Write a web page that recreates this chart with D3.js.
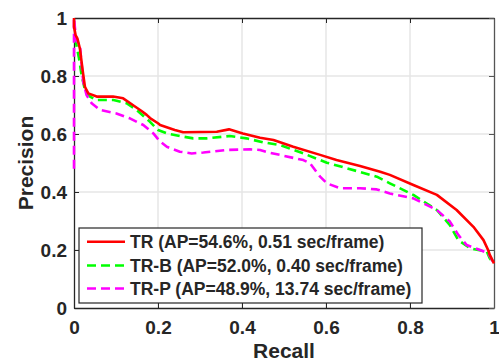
<!DOCTYPE html>
<html><head><meta charset="utf-8">
<script src="https://cdn.jsdelivr.net/npm/d3@7"></script>
<style>body{margin:0;background:#fff}svg{display:block}text{font-family:"Liberation Sans",Arial,Helvetica,sans-serif;font-weight:bold;fill:#262626}</style>
</head><body><svg id="c" width="499" height="361"></svg>
<script>
const xTicks=[0,0.2,0.4,0.6,0.8,1];
const yTicks=[0,0.2,0.4,0.6,0.8,1];
const xTickLabels=["0","0.2","0.4","0.6","0.8","1"];
const yTickLabels=["0","0.2","0.4","0.6","0.8","1"];
const seriesNames=["TR (AP=54.6%, 0.51 sec/frame)","TR-B (AP=52.0%, 0.40 sec/frame)","TR-P (AP=48.9%, 13.74 sec/frame)"];
const trRecall=[0,0,0.004,0.008,0.014,0.021,0.026,0.034,0.054,0.093,0.117,0.14,0.16,0.173,0.181,0.2,0.205,0.24,0.26,0.30,0.34,0.369,0.402,0.443,0.475,0.522,0.586,0.625,0.681,0.729,0.752,0.808,0.864,0.911,0.951,0.975,0.986,0.99,1.0];
const trPrecision=[1.0,0.97,0.94,0.93,0.895,0.815,0.763,0.74,0.729,0.729,0.723,0.70,0.68,0.666,0.655,0.637,0.631,0.614,0.606,0.607,0.608,0.616,0.602,0.587,0.579,0.556,0.528,0.51,0.49,0.47,0.459,0.424,0.39,0.338,0.28,0.234,0.2,0.183,0.154];
const trbRecall=[0,0.005,0.012,0.018,0.026,0.038,0.054,0.094,0.125,0.149,0.181,0.2,0.221,0.26,0.284,0.316,0.371,0.411,0.451,0.49,0.546,0.602,0.649,0.721,0.752,0.808,0.864,0.895,0.915,0.943,0.983,0.99,1.0];
const trbPrecision=[0.93,0.913,0.86,0.803,0.752,0.729,0.717,0.717,0.706,0.683,0.642,0.614,0.602,0.591,0.585,0.585,0.593,0.585,0.571,0.562,0.533,0.501,0.482,0.453,0.43,0.39,0.338,0.286,0.234,0.206,0.194,0.171,0.154];
const trpRecall=[0,0,0.005,0.014,0.022,0.03,0.042,0.062,0.101,0.133,0.165,0.189,0.205,0.221,0.252,0.28,0.308,0.364,0.419,0.443,0.463,0.49,0.546,0.562,0.586,0.602,0.633,0.681,0.721,0.752,0.808,0.864,0.895,0.915,0.935,0.967,0.986,1.0];
const trpPrecision=[0.48,1.0,0.924,0.907,0.78,0.734,0.706,0.683,0.671,0.654,0.631,0.602,0.574,0.556,0.539,0.533,0.536,0.545,0.547,0.545,0.536,0.528,0.51,0.499,0.453,0.43,0.413,0.413,0.409,0.395,0.378,0.338,0.298,0.252,0.217,0.2,0.189,0.154];
const colors=["#ff0000","#00ff00","#ff00ff"];
const dashes=[null,"9,5","9,5"];

const svg=d3.select("#c");
const L=74,R=494,T=18,B=308;
const x=d3.scaleLinear().domain([0,1]).range([L,R]);
const y=d3.scaleLinear().domain([0,1]).range([B,T]);

// grid
const g=svg.append("g");
g.selectAll(".gx").data(xTicks.slice(1,-1)).enter().append("line")
 .attr("x1",d=>x(d)).attr("x2",d=>x(d)).attr("y1",T).attr("y2",B).attr("stroke","#e6e6e6").attr("stroke-width",1.5);
g.selectAll(".gy").data(yTicks.slice(1,-1)).enter().append("line")
 .attr("y1",d=>y(d)).attr("y2",d=>y(d)).attr("x1",L).attr("x2",R).attr("stroke","#e6e6e6").attr("stroke-width",1.5);

// axes
const xa=d3.axisBottom(x).tickValues(xTicks).tickFormat((d,i)=>xTickLabels[i]).tickSizeInner(-5).tickSizeOuter(0).tickPadding(14);
const ya=d3.axisLeft(y).tickValues(yTicks).tickFormat((d,i)=>yTickLabels[i]).tickSizeInner(-5).tickSizeOuter(0).tickPadding(12);
const xt=d3.axisTop(x).tickValues(xTicks).tickFormat("").tickSizeInner(-5).tickSizeOuter(0);
const yr=d3.axisRight(y).tickValues(yTicks).tickFormat("").tickSizeInner(-5).tickSizeOuter(0);
function style(sel,col){sel.selectAll("path").attr("stroke",col).attr("stroke-width",1.3);sel.selectAll("line").attr("stroke",col);sel.selectAll("text").attr("font-size",19).attr("fill","#262626");}
const gxB=svg.append("g").attr("transform",`translate(0,${B})`).call(xa);style(gxB,"#262626");
gxB.selectAll("text").attr("dy",null).attr("y",26);
const gyL=svg.append("g").attr("transform",`translate(${L},0)`).call(ya);style(gyL,"#262626");
gyL.selectAll("text").attr("x",-7).attr("dy","0.36em");
const gxT=svg.append("g").attr("transform",`translate(0,${T})`).call(xt);style(gxT,"#262626");
const gyR=svg.append("g").attr("transform",`translate(${R},0)`).call(yr);style(gyR,"#555");

// curves
const series=[[trRecall,trPrecision],[trbRecall,trbPrecision],[trpRecall,trpPrecision]];
const line=d3.line().x(d=>x(d[0])).y(d=>y(d[1]));
series.forEach((s,i)=>{
  const pts=s[0].map((r,j)=>[r,s[1][j]]);
  svg.append("path").datum(pts).attr("d",line).attr("fill","none").attr("stroke",colors[i])
   .attr("stroke-width",2.6).attr("stroke-dasharray",dashes[i]).attr("stroke-linejoin","round");
});
// draw red on top? keep order: magenta, then red; reorder by raising red
svg.selectAll("path").filter(function(){return d3.select(this).attr("stroke")==="#ff0000";}).raise();

// legend
const lg=svg.append("g");
lg.append("rect").attr("x",79).attr("y",228).attr("width",343).attr("height",75).attr("fill","#fff").attr("stroke","#262626").attr("stroke-width",1.2);
const ly=[241.7,265.5,288.5];
seriesNames.forEach((n,i)=>{
  lg.append("line").attr("x1",87).attr("x2",125).attr("y1",ly[i]).attr("y2",ly[i]).attr("stroke",colors[i]).attr("stroke-width",2.6).attr("stroke-dasharray",dashes[i]);
  lg.append("text").attr("x",130).attr("y",ly[i]).attr("dy","0.36em").attr("font-size",17.5).text(n);
});

// axis titles
svg.append("text").attr("x",284).attr("y",358).attr("text-anchor","middle").attr("font-size",21).text("Recall");
svg.append("text").attr("transform","translate(33,163) rotate(-90)").attr("text-anchor","middle").attr("font-size",21).text("Precision");
</script></body></html>
